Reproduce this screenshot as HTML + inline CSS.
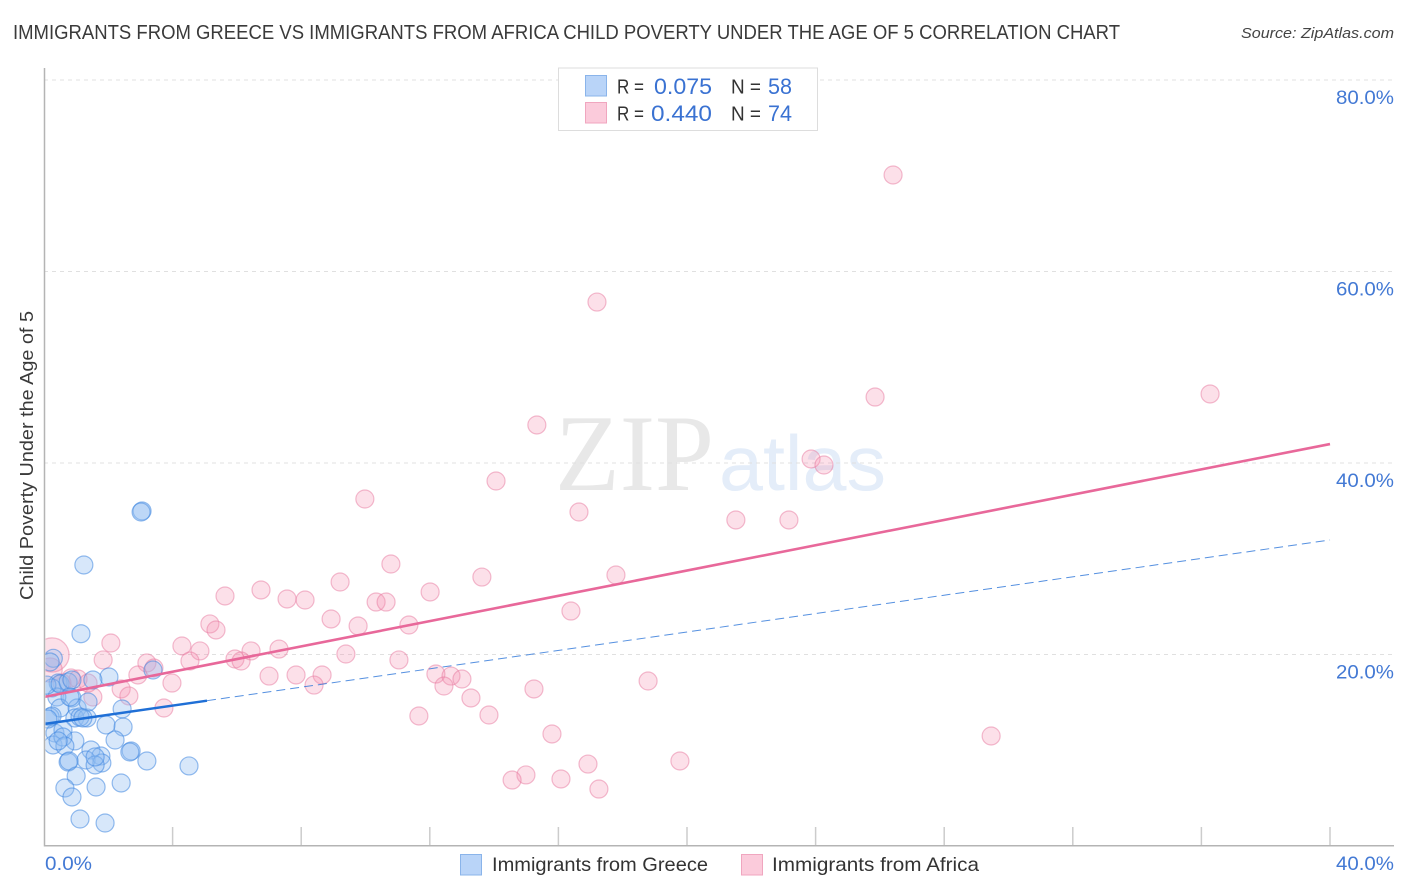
<!DOCTYPE html>
<html lang="en">
<head>
<meta charset="utf-8">
<title>Immigrants from Greece vs Immigrants from Africa Child Poverty Correlation Chart</title>
<style>
html,body{margin:0;padding:0;background:#fff;}
svg{display:block;font-family:"Liberation Sans",sans-serif;}
</style>
</head>
<body>
<svg id="chart" width="1406" height="892" viewBox="0 0 1406 892" xmlns="http://www.w3.org/2000/svg">
  <defs><clipPath id="plot-clip"><rect x="45.5" y="60" width="1350" height="786"/></clipPath></defs>
  <rect x="0" y="0" width="1406" height="892" fill="#fff"/>
  <text x="13" y="39" font-size="20" fill="#3a3a3a" textLength="1107" lengthAdjust="spacingAndGlyphs">IMMIGRANTS FROM GREECE VS IMMIGRANTS FROM AFRICA CHILD POVERTY UNDER THE AGE OF 5 CORRELATION CHART</text>
  <text x="1241" y="38" font-size="15" font-style="italic" fill="#444" textLength="153" lengthAdjust="spacingAndGlyphs">Source: ZipAtlas.com</text>
  <g>
    <text x="555" y="490" font-size="109" font-family="'Liberation Serif',serif" fill="#e8e8e8" textLength="159" lengthAdjust="spacingAndGlyphs">ZIP</text>
    <text x="719" y="490" font-size="78" fill="#e4edf9" textLength="167" lengthAdjust="spacingAndGlyphs">atlas</text>
  </g>
  <g id="grid"></g>
  <g id="axes"></g>
  <g id="points-africa" clip-path="url(#plot-clip)"></g>
  <g id="points-greece" clip-path="url(#plot-clip)"></g>
  <g id="trends" clip-path="url(#plot-clip)"></g>
  <text transform="translate(33,455.5) rotate(-90)" text-anchor="middle" font-size="18.5" fill="#3a3a3a" textLength="289" lengthAdjust="spacingAndGlyphs">Child Poverty Under the Age of 5</text>
  <g id="tick-labels"></g>
  <g>
    <rect x="558.5" y="68" width="259" height="62.5" fill="#fff" stroke="#ddd" stroke-width="1"/>
    <rect x="585.5" y="75.5" width="21" height="20.5" fill="#b9d4f8" stroke="#8ab4ea"/>
    <rect x="585.5" y="102.5" width="21" height="20.5" fill="#fbcbdb" stroke="#f0a6bf"/>
    <text x="617" y="93.5" font-size="20" fill="#333" textLength="27" lengthAdjust="spacingAndGlyphs">R =</text>
    <text x="654" y="94" font-size="22" fill="#3a72d2" textLength="58" lengthAdjust="spacingAndGlyphs">0.075</text>
    <text x="731" y="93.5" font-size="20" fill="#333" textLength="30" lengthAdjust="spacingAndGlyphs">N =</text>
    <text x="768" y="94" font-size="22" fill="#3a72d2" textLength="24" lengthAdjust="spacingAndGlyphs">58</text>
    <text x="617" y="120.5" font-size="20" fill="#333" textLength="27" lengthAdjust="spacingAndGlyphs">R =</text>
    <text x="651" y="121" font-size="22" fill="#3a72d2" textLength="61" lengthAdjust="spacingAndGlyphs">0.440</text>
    <text x="731" y="120.5" font-size="20" fill="#333" textLength="30" lengthAdjust="spacingAndGlyphs">N =</text>
    <text x="768" y="121" font-size="22" fill="#3a72d2" textLength="24" lengthAdjust="spacingAndGlyphs">74</text>
  </g>
  <g>
    <rect x="460.5" y="854.5" width="21" height="20.5" fill="#b9d4f8" stroke="#8ab4ea"/>
    <text x="492" y="871" font-size="19.5" fill="#333" textLength="216" lengthAdjust="spacingAndGlyphs">Immigrants from Greece</text>
    <rect x="741.5" y="854.5" width="21" height="20.5" fill="#fbcbdb" stroke="#f0a6bf"/>
    <text x="772" y="871" font-size="19.5" fill="#333" textLength="207" lengthAdjust="spacingAndGlyphs">Immigrants from Africa</text>
  </g>
</svg>
<script>
// Chart data (percent values)
const xTickValues = [0, 4, 8, 12, 16, 20, 24, 28, 32, 36, 40];
const yTickValues = [20, 40, 60, 80];
const xTickLabels = ["0.0%", "40.0%"];
const xLabelledTicks = [0, 40];
const yTickLabels = ["20.0%", "40.0%", "60.0%", "80.0%"];

const greeceX = [1.15,.29,2.02,1.52,.44,.25,3.39,.87,.40,.50,2.43,.19,.25,1.03,.96,1.34,1.12,1.93,2.46,.34,.59,.28,.96,2.21,.59,.65,2.71,2.67,1.46,1.77,1.31,1.80,1.59,.75,.78,3.20,4.51,1.00,.65,2.40,1.62,.87,1.12,1.90,3.05,3.02,1.24,.19,.09,.50,.75,.87,1.37,.12,1.21,.44,.81,1.59];
const greeceY = [22.17,19.6,17.65,17.34,17.02,16.5,18.38,15.46,15.56,14.41,14.31,13.47,13.58,14.41,13.37,13.37,13.47,12.64,12.43,11.8,12.11,10.55,10.97,11.07,11.38,10.44,9.92,9.82,10.03,9.4,8.98,8.67,8.46,8.77,8.88,8.88,8.36,7.31,6.06,6.58,6.16,5.12,2.82,2.4,34.99,34.88,29.35,19.22,16.81,16.92,17.13,17.34,15.04,13.26,13.37,10.97,15.56,9.3];

const africaX = [.25,.19,26.41,17.2,36.27,25.85,15.33,23.86,24.26,14.06,9.98,16.64,21.52,23.17,10.79,17.79,13.62,9.21,12.01,6.75,5.63,7.56,8.12,10.33,10.64,16.39,8.93,5.16,5.35,9.77,11.35,4.29,2.08,4.85,1.84,7.31,6.44,9.39,5.94,6.13,3.2,4.54,3.42,11.04,12.19,12.66,13.0,7.0,7.84,8.65,3.98,2.92,8.4,12.44,18.79,15.24,2.4,2.64,1.52,13.28,3.73,11.66,13.84,15.8,29.46,19.78,16.92,14.99,14.56,16.08,17.26,.84,1.06,1.37,.56];
const africaY = [19.95,18.38,70.08,56.81,47.21,46.89,43.97,40.42,39.79,38.12,36.24,34.88,34.05,34.05,29.45,28.3,28.09,27.57,26.53,26.74,26.11,25.8,25.69,25.48,25.48,24.54,23.71,23.19,22.56,22.98,23.08,20.89,21.2,20.37,19.43,20.57,20.37,20.05,19.53,19.32,19.11,19.32,18.59,19.43,17.96,17.75,17.44,17.75,17.86,17.86,17.02,17.86,16.81,16.71,17.23,16.4,16.4,15.67,15.56,15.46,14.41,13.58,13.68,11.7,11.49,8.88,8.56,7.42,6.89,7.0,5.95,17.55,17.44,17.02,17.02];
const africaWeight = [3.6, 1.8];

const greeceTrendEnds = [12.74, 31.96];
const greeceSolidUntil = 5.07;
const africaTrendEnds = [15.56, 41.98];
const trendDomain = [0, 40];

// Axis functions
const X0 = 44, X40 = 1330, Y0 = 846, Y80 = 80;
function sx(v) { return X0 + (X40 - X0) * v / 40; }
function sy(v) { return Y0 - (Y0 - Y80) * v / 80; }
const NS = 'http://www.w3.org/2000/svg';
function mk(tag, parent, attrs) {
  const el = document.createElementNS(NS, tag);
  for (const k in attrs) el.setAttribute(k, attrs[k]);
  parent.appendChild(el);
  return el;
}
function lerp(ends, x) { return ends[0] + (ends[1] - ends[0]) * (x - trendDomain[0]) / (trendDomain[1] - trendDomain[0]); }

const gridG = document.getElementById('grid');
const axesG = document.getElementById('axes');
const labelG = document.getElementById('tick-labels');

yTickValues.forEach(function (v, i) {
  const line = mk('line', gridG, { x1: X0, x2: 1394, y1: sy(v), y2: sy(v), stroke: '#e0e0e0', 'stroke-width': 1, 'stroke-dasharray': '4 4' });
  
  
  const t = mk('text', labelG, { x: 1394, y: sy(v) + 24, 'text-anchor': 'end', 'font-size': 19.5, fill: '#4379d4', textLength: 58, lengthAdjust: 'spacingAndGlyphs' });
  t.textContent = yTickLabels[i];
  
  
});

xTickValues.forEach(function (v) {
  if (v === 0) return;
  const tick = mk('line', axesG, { x1: sx(v), x2: sx(v), y1: 827, y2: Y0, stroke: '#cccccc', 'stroke-width': 1.5 });
  
  
});

const yAxis = mk('line', axesG, { x1: 44.5, x2: 44.5, y1: 68, y2: 846.5, stroke: '#b4b4b4', 'stroke-width': 1.5 });


const xAxis = mk('line', axesG, { x1: 44, x2: 1394, y1: 845.7, y2: 845.7, stroke: '#b4b4b4', 'stroke-width': 1.5 });



xLabelledTicks.forEach(function (v, i) {
  const t = mk('text', labelG, i === 0
    ? { x: 45, y: 870, 'font-size': 19.5, fill: '#4379d4', textLength: 47, lengthAdjust: 'spacingAndGlyphs' }
    : { x: 1394, y: 870, 'text-anchor': 'end', 'font-size': 19.5, fill: '#4379d4', textLength: 58, lengthAdjust: 'spacingAndGlyphs' });
  t.textContent = xTickLabels[i];
  
  
});

const africaG = document.getElementById('points-africa');
africaX.forEach(function (x, i) {
  const w = africaWeight[i] || 1;
  const c = mk('circle', africaG, { cx: sx(x), cy: sy(africaY[i]), r: 9 * Math.sqrt(w), fill: '#f48fb1', 'fill-opacity': .28, stroke: '#e8799f', 'stroke-opacity': .5, 'stroke-width': 1.2 });
  
  
});

const greeceG = document.getElementById('points-greece');
greeceX.forEach(function (x, i) {
  const c = mk('circle', greeceG, { cx: sx(x), cy: sy(greeceY[i]), r: 9, fill: '#8fbcf0', 'fill-opacity': .36, stroke: '#3f86e0', 'stroke-opacity': .55, 'stroke-width': 1.2 });
  
  
});

const trendG = document.getElementById('trends');
const dashLine = mk('line', trendG, { x1: sx(greeceSolidUntil), y1: sy(lerp(greeceTrendEnds, greeceSolidUntil)), x2: sx(trendDomain[1]), y2: sy(greeceTrendEnds[1]), stroke: '#2a74d8', 'stroke-width': 1, 'stroke-opacity': .8, 'stroke-dasharray': '9 5' });


const solidLine = mk('line', trendG, { x1: sx(trendDomain[0]), y1: sy(greeceTrendEnds[0]), x2: sx(greeceSolidUntil), y2: sy(lerp(greeceTrendEnds, greeceSolidUntil)), stroke: '#1f6fd6', 'stroke-width': 2.5 });


const pinkLine = mk('line', trendG, { x1: sx(trendDomain[0]), y1: sy(africaTrendEnds[0]), x2: sx(trendDomain[1]), y2: sy(africaTrendEnds[1]), stroke: '#e8689a', 'stroke-width': 2.6 });


</script>
</body>
</html>
